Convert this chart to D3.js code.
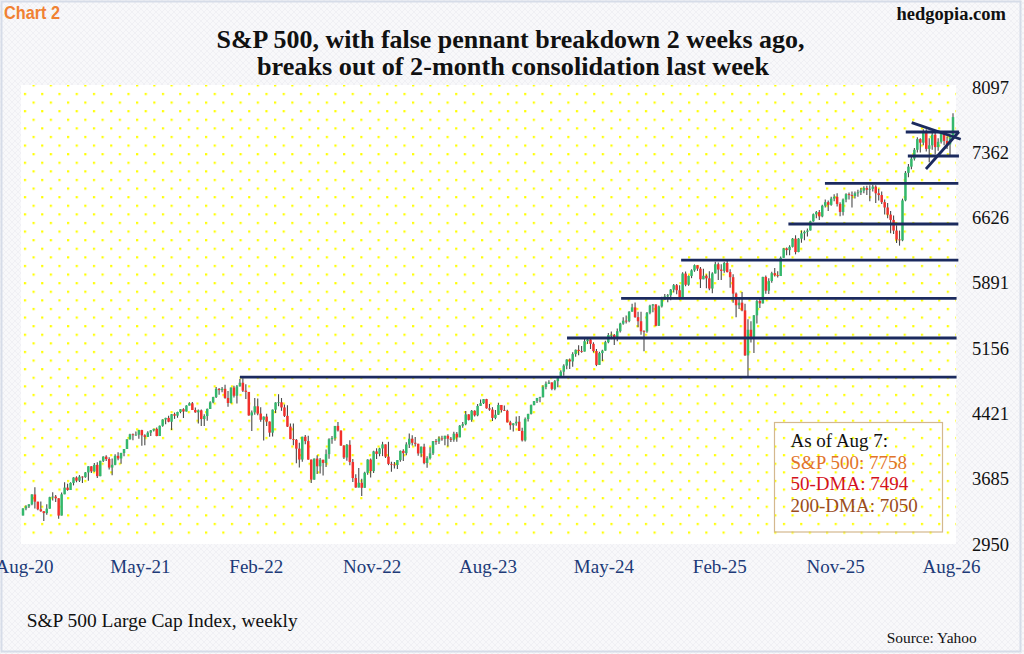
<!DOCTYPE html>
<html><head><meta charset="utf-8">
<script src="https://cdn.jsdelivr.net/npm/d3@7/dist/d3.min.js"></script>
<style>html,body{margin:0;padding:0;background:#fff;}svg{display:block;}</style>
</head><body>
<svg id="chart" width="1024" height="654"></svg>
<script>
// ---------- DATA ----------
const firstWeek = "2020-08-07";
const firstOpen = 3271;
const closes = [
3351,3373,3397,3508,3427,3341,3319,3298,3348,3477,3484,3465,3270,3510,3585,3558,3638,3699,3663,3709,3703,3756,
3825,3768,3841,3714,3887,3934,3907,3811,3842,3943,3913,3975,4020,4129,4185,4180,4181,4233,4174,4156,4204,4230,4247,4166,4281,4352,4370,4327,4412,4395,4437,4468,4442,4509,4535,4459,4433,4455,4357,4391,4471,4545,4605,4697,4683,4698,4595,4538,4712,4620,4725,4766,
4677,4663,4398,4432,4501,4419,4349,4385,4329,4204,4463,4543,4546,4488,4393,4272,4132,4123,4024,3901,4158,4109,3901,3675,3912,3825,3899,3863,3962,4130,4145,4280,4228,4058,3924,4067,3873,3693,3586,3640,3583,3752,3901,3771,3993,3965,4026,4072,3934,3852,3845,3840,
3895,3999,3973,4071,4136,4090,4079,3970,4046,3862,3917,3971,4109,4105,4138,4133,4169,4136,4124,4192,4151,4282,4299,4410,4348,4450,4399,4505,4536,4582,4478,4464,4370,4406,4516,4457,4450,4320,4288,4309,4327,4224,4117,4358,4415,4514,4559,4595,4604,4719,4755,4770,
4697,4784,4840,4891,4959,5027,5006,5089,5137,5124,5117,5234,5254,5204,5123,4967,5100,5128,5223,5303,5305,5278,5347,5432,5465,5460,5567,5615,5505,5459,5346,5344,5554,5635,5648,5408,5626,5703,5738,5751,5815,5865,5808,5729,5996,5870,5969,6032,6090,6051,5931,5971,
5942,5827,5997,6101,6041,6026,6115,6013,5955,5770,5639,5668,5581,5074,5363,5283,5525,5687,5660,5958,5803,5912,6000,5977,5968,6173,6280,6260,6297,6389,6238,6389,
6449,6466,6481,6584,6664,6688,6640,6760,6800,6770,6840,6860,6780,6690,6830,6890,6880,6870,6900,6910,6930,6960,6940,6950,6975,6900,6880,6800,6740,6660,6600,6480,6380,6370,6820,7130,7200,7290,7390,7510,7470,7580,7400,7440,7560,7420,7480,7570,7490,7450,7530,7758
];
const highs = [
3352,3387,3399,3509,3588,3425,3428,3320,3397,3483,3534,3502,3465,3530,3646,3628,3645,3702,3712,3726,3712,3760,
3827,3823,3861,3870,3888,3937,3950,3928,3914,3960,3983,3979,4021,4130,4191,4195,4218,4238,4236,4187,4219,4234,4249,4262,4286,4356,4372,4394,4415,4430,4440,4469,4480,4513,4546,4549,4487,4466,4466,4412,4475,4559,4608,4718,4708,4717,4744,4672,4713,4731,4740,4808,
4818,4749,4662,4453,4595,4590,4490,4385,4416,4329,4465,4546,4637,4594,4521,4513,4308,4307,4133,4090,4159,4177,4169,3838,3913,3950,3918,3881,4013,4140,4167,4280,4325,4203,4062,4076,4119,3907,3736,3807,3686,3763,3905,3912,4001,4028,4034,4101,4052,4101,3876,3873,
3895,4003,4016,4095,4195,4176,4156,4062,4048,4079,3937,4039,4110,4133,4164,4170,4170,4186,4154,4213,4212,4290,4323,4449,4405,4458,4456,4528,4578,4583,4585,4527,4491,4458,4541,4515,4511,4463,4338,4311,4385,4393,4259,4374,4416,4521,4560,4595,4609,4739,4779,4793,
4770,4798,4842,4906,4975,5031,5039,5111,5140,5189,5179,5261,5265,5264,5222,5146,5114,5139,5239,5325,5342,5315,5376,5441,5505,5523,5570,5655,5669,5567,5566,5358,5563,5644,5652,5651,5636,5734,5767,5765,5822,5879,5878,5863,6012,6018,5973,6044,6099,6085,6070,6050,
5986,6022,6011,6128,6120,6101,6128,6147,6044,5987,5783,5715,5787,5655,5481,5459,5528,5700,5720,5959,5973,5944,6017,6059,6023,6187,6284,6290,6316,6395,6427,6395,
6481,6480,6502,6590,6672,6700,6712,6770,6830,6820,6860,6890,6900,6800,6840,6900,6910,6920,6920,6940,6960,6980,6985,6990,6995,6990,6950,6920,6830,6790,6700,6650,6540,6480,6840,7150,7230,7310,7410,7530,7520,7620,7620,7520,7590,7590,7520,7600,7590,7540,7560,7800
];
const lows = [
3284,3329,3355,3387,3349,3329,3313,3209,3280,3354,3441,3424,3234,3280,3512,3549,3578,3610,3645,3648,3636,3697,
3663,3750,3765,3694,3725,3874,3884,3789,3723,3838,3894,3853,3938,4020,4127,4118,4170,4134,4056,4061,4156,4167,4216,4164,4165,4271,4300,4320,4234,4359,4372,4423,4368,4442,4509,4458,4427,4306,4279,4278,4338,4470,4535,4595,4630,4660,4585,4495,4532,4600,4531,4726,
4662,4582,4395,4223,4405,4401,4327,4115,4279,4157,4161,4424,4502,4450,4381,4268,4129,4063,3859,3811,3876,4073,3900,3637,3705,3738,3743,3721,3818,3911,4079,4112,4218,4057,3907,3887,3838,3647,3584,3591,3492,3647,3731,3699,3751,3907,3938,3940,3919,3838,3765,3800,
3794,3877,3885,3949,4031,4060,4048,3944,3928,3847,3809,3902,3951,4069,4075,4113,4061,4048,4098,4103,4103,4166,4260,4287,4341,4328,4385,4390,4503,4527,4474,4450,4335,4356,4404,4430,4447,4317,4238,4216,4283,4223,4104,4104,4329,4408,4513,4537,4546,4599,4694,4751,
4683,4683,4715,4842,4845,4918,4920,4946,5058,5075,5104,5132,5203,5146,5107,4953,4970,5012,5127,5211,5257,5191,5234,5331,5420,5432,5448,5566,5497,5390,5306,5120,5328,5537,5560,5402,5406,5615,5703,5674,5696,5783,5762,5703,5712,5853,5858,5944,6016,6026,5832,5933,
5829,5809,5773,6012,5924,5923,6004,6009,5837,5667,5505,5597,5572,5069,4835,5220,5101,5433,5607,5732,5768,5767,5891,5963,5952,5988,6174,6201,6201,6290,6212,6236,
6343,6370,6412,6480,6578,6620,6600,6630,6740,6700,6760,6810,6750,6640,6650,6800,6830,6740,6840,6860,6880,6900,6880,6810,6920,6790,6820,6780,6660,6620,6450,6440,6340,6310,6360,6810,7080,7170,7270,7360,7360,7440,7370,7250,7390,7340,7380,7460,7440,7400,7320,7510
];
const yTickValues = [2950, 3685, 4421, 5156, 5891, 6626, 7362, 8097];
const xTickWeeks = [0, 39, 78, 117, 156, 195, 234, 273, 312];
const xTickLabels = ["Aug-20","May-21","Feb-22","Nov-22","Aug-23","May-24","Feb-25","Nov-25","Aug-26"];
// support/resistance levels: value, from week, to week
const levelValues = [4830, 5270, 5717, 6148, 6554, 7012, 7320, 7590];
const levelFrom   = [73, 183.1, 201.3, 221.5, 257.6, 269.9, 297.8, 297.1];
const levelTo     = [314.2, 314.2, 314.2, 314.8, 314.8, 314.8, 315.0, 315.0];
// pennant trend lines: [week1, value1, week2, value2]
const pennantLines = [[299.1, 7695, 315.6, 7508], [303.9, 7173, 315.0, 7593]];
const legendTexts = ["As of Aug 7:", "S&P 500: 7758", "50-DMA: 7494", "200-DMA: 7050"];
const legendColors = ["#111111", "#e2742a", "#d4121c", "#9a4c1c"];

// ---------- BUILD ----------
const svg = d3.select("#chart");
const defs = svg.append("defs");
const hatch = defs.append("pattern").attr("id","hatch").attr("patternUnits","userSpaceOnUse")
  .attr("width",6).attr("height",6);
hatch.append("rect").attr("width",6).attr("height",6).attr("fill","#f8f8fa");
hatch.append("path").attr("d","M0,6 L6,0 M0,0 L6,6").attr("stroke","#eeeef2").attr("stroke-width",0.8);

const dots = defs.append("pattern").attr("id","dots").attr("patternUnits","userSpaceOnUse")
  .attr("x",21).attr("y",90).attr("width",17.25).attr("height",17.2);
dots.append("rect").attr("x",2.9).attr("y",2.9).attr("width",2.2).attr("height",2.2).attr("fill","#ffff00");
dots.append("rect").attr("x",11.52).attr("y",11.5).attr("width",2.2).attr("height",2.2).attr("fill","#ffff00");

svg.append("rect").attr("width",1024).attr("height",654).attr("fill","url(#hatch)");
svg.append("rect").attr("x",1.5).attr("y",1.5).attr("width",1019).attr("height",650)
  .attr("fill","none").attr("stroke","#d6dce8").attr("stroke-width",2);

const x = d3.scaleLinear().domain([0, 313]).range([23, 953]);
const y = d3.scaleLinear().domain([2950, 8097]).range([544, 87]);

// plot area
svg.append("rect").attr("x",21).attr("y",85).attr("width",935).attr("height",459).attr("fill","#ffffff");
svg.append("rect").attr("x",21).attr("y",85).attr("width",935).attr("height",455).attr("fill","url(#dots)");

// candles
const candles = closes.map((c,i) => {
  const o = i === 0 ? firstOpen : closes[i-1];
  return {i, o, c, h: Math.max(highs[i], o, c), l: Math.min(lows[i], o, c)};
});
const cg = svg.append("g");
cg.selectAll("line.wick").data(candles).join("line").attr("class","wick")
  .attr("x1", d => x(d.i)).attr("x2", d => x(d.i))
  .attr("y1", d => y(d.h)).attr("y2", d => y(d.l))
  .attr("stroke","#4a4a4a").attr("stroke-width",1.1);
cg.selectAll("rect.body").data(candles).join("rect").attr("class","body")
  .attr("x", d => x(d.i) - 1.25).attr("width", 2.5)
  .attr("y", d => y(Math.max(d.o, d.c)))
  .attr("height", d => Math.max(0.8, Math.abs(y(d.o) - y(d.c))))
  .attr("fill", d => d.c >= d.o ? "#33b86c" : "#f2302c");

// levels
const navy = "#1b2a5e";
svg.append("g").selectAll("line").data(levelValues).join("line")
  .attr("x1", (v,i) => x(levelFrom[i])).attr("x2", (v,i) => x(levelTo[i]))
  .attr("y1", v => y(v)).attr("y2", v => y(v))
  .attr("stroke", navy).attr("stroke-width", 2.8);
svg.append("g").selectAll("line").data(pennantLines).join("line")
  .attr("x1", d => x(d[0])).attr("y1", d => y(d[1]))
  .attr("x2", d => x(d[2])).attr("y2", d => y(d[3]))
  .attr("stroke", navy).attr("stroke-width", 2.8);

// y axis (right)
const yAxis = svg.append("g").attr("transform","translate(972,0)")
  .call(d3.axisRight(y).tickValues(yTickValues).tickSize(0).tickPadding(0).tickFormat(d3.format("d")));
yAxis.select(".domain").remove();
yAxis.selectAll("text").attr("font-family","'Liberation Serif','Times New Roman',serif")
  .attr("font-size",18.5).attr("fill","#111").attr("dy","0.33em");

// x axis
const xAxis = svg.append("g").attr("transform","translate(1,573)")
  .call(d3.axisBottom(x).tickValues(xTickWeeks).tickSize(0).tickFormat((d,i) => xTickLabels[i]));
xAxis.select(".domain").remove();
xAxis.selectAll("text").attr("y",0).attr("dy",0)
  .attr("font-family","'Liberation Serif','Times New Roman',serif")
  .attr("font-size",19).attr("fill","#203a78");

// legend box
const lg = svg.append("g");
lg.append("rect").attr("x",774.5).attr("y",422.5).attr("width",168).attr("height",109.5)
  .attr("fill","none").attr("stroke","#d4b88e").attr("stroke-width",1.2);
lg.selectAll("text").data(legendTexts).join("text")
  .attr("x",790.5).attr("y",(d,i) => 447.3 + i*21.5)
  .attr("font-family","'Liberation Serif','Times New Roman',serif").attr("font-size",19)
  .attr("fill",(d,i) => legendColors[i]).text(d => d);

// titles & notes
const serif = "'Liberation Serif','Times New Roman',serif";
svg.append("text").attr("x",4).attr("y",19).attr("font-family","'Liberation Sans Narrow','Arial Narrow','Liberation Sans',sans-serif")
  .attr("font-weight","bold").attr("font-size",19).attr("fill","#f08132")
  .attr("textLength",56).attr("lengthAdjust","spacingAndGlyphs").text("Chart 2");
svg.append("text").attr("x",1006).attr("y",20).attr("text-anchor","end").attr("font-family",serif)
  .attr("font-weight","bold").attr("font-size",18.5).attr("fill","#111").text("hedgopia.com");
svg.append("text").attr("x",216.5).attr("y",47.5).attr("font-family",serif).attr("font-weight","bold")
  .attr("font-size",26).attr("fill","#111").attr("textLength",588).attr("lengthAdjust","spacingAndGlyphs")
  .text("S&P 500, with false pennant breakdown 2 weeks ago,");
svg.append("text").attr("x",257).attr("y",74.5).attr("font-family",serif).attr("font-weight","bold")
  .attr("font-size",26).attr("fill","#111").attr("textLength",512).attr("lengthAdjust","spacingAndGlyphs")
  .text("breaks out of 2-month consolidation last week");
svg.append("text").attr("x",26.7).attr("y",626.7).attr("font-family",serif).attr("font-size",19.5)
  .attr("fill","#111").attr("textLength",271).attr("lengthAdjust","spacingAndGlyphs")
  .text("S&P 500 Large Cap Index, weekly");
svg.append("text").attr("x",886.7).attr("y",642.7).attr("font-family",serif).attr("font-size",15)
  .attr("fill","#111").attr("textLength",90).attr("lengthAdjust","spacingAndGlyphs").text("Source: Yahoo");
</script>
</body></html>
